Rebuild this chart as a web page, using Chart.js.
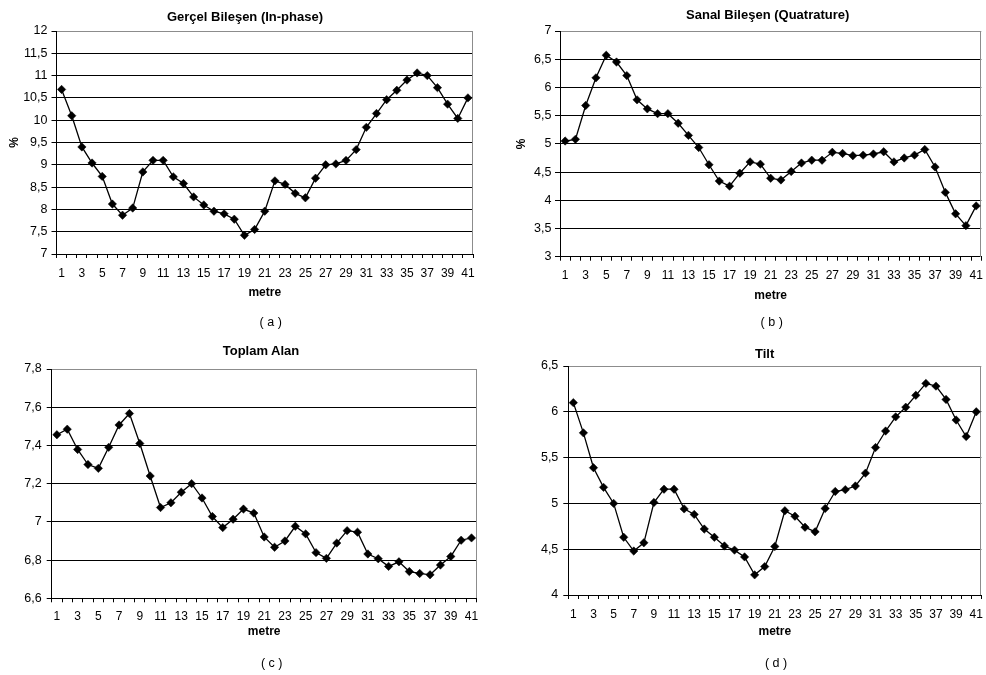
<!DOCTYPE html>
<html><head><meta charset="utf-8">
<script src="https://cdn.jsdelivr.net/npm/chart.js@4.4.1/dist/chart.umd.min.js"></script>
<style>
html,body{margin:0;padding:0;background:#fff;overflow:hidden;}
body{width:986px;height:675px;position:relative;font-family:"Liberation Sans",Arial,sans-serif;}
canvas{position:absolute;}
.t{position:absolute;transform:translate(-50%,-50%);white-space:nowrap;color:#000;line-height:1;}
.title{font-weight:bold;font-size:13px;}
.cap{font-size:12.5px;}
</style></head><body>
<canvas id="cA"></canvas>
<canvas id="cB"></canvas>
<canvas id="cC"></canvas>
<canvas id="cD"></canvas>
<div class="t title" style="left:245px;top:16px">Gerçel Bileşen (In-phase)</div>
<div class="t title" style="left:767.7px;top:13.5px">Sanal Bileşen (Quatrature)</div>
<div class="t title" style="left:261px;top:350px">Toplam Alan</div>
<div class="t title" style="left:764.7px;top:352.7px">Tilt</div>
<div class="t cap" style="left:270.7px;top:321.7px">( a )</div>
<div class="t cap" style="left:771.7px;top:321.7px">( b )</div>
<div class="t cap" style="left:271.7px;top:663.3px">( c )</div>
<div class="t cap" style="left:776px;top:663.3px">( d )</div>
<script>
// ---- data ----
const metre = ['1','2','3','4','5','6','7','8','9','10','11','12','13','14','15','16','17','18','19','20',
  '21','22','23','24','25','26','27','28','29','30','31','32','33','34','35','36','37','38','39','40','41'];

const inPhase = [10.69, 10.1, 9.4, 9.04, 8.74, 8.12, 7.87, 8.03, 8.84, 9.1,
  9.1, 8.73, 8.58, 8.28, 8.1, 7.96, 7.9, 7.78, 7.42, 7.55,
  7.96, 8.64, 8.56, 8.36, 8.26, 8.7, 9.0, 9.02, 9.1, 9.34,
  9.84, 10.15, 10.46, 10.67, 10.9, 11.06, 11.0, 10.73, 10.36, 10.04, 10.5];

const quadrature = [5.05, 5.08, 5.68, 6.17, 6.57, 6.45, 6.21, 5.78, 5.62, 5.535,
  5.535, 5.365, 5.15, 4.935, 4.63, 4.34, 4.25, 4.48, 4.68, 4.64,
  4.39, 4.36, 4.51, 4.66, 4.71, 4.71, 4.85, 4.83, 4.79, 4.8,
  4.82, 4.86, 4.68, 4.75, 4.8, 4.9, 4.59, 4.14, 3.76, 3.55, 3.9];

const totalArea = [7.456, 7.485, 7.379, 7.3, 7.28, 7.39, 7.507, 7.567, 7.41, 7.24,
  7.075, 7.1, 7.155, 7.2, 7.125, 7.028, 6.97, 7.014, 7.067, 7.046,
  6.921, 6.867, 6.9, 6.977, 6.937, 6.839, 6.809, 6.889, 6.954, 6.946,
  6.832, 6.807, 6.767, 6.791, 6.74, 6.73, 6.723, 6.774, 6.819, 6.904, 6.916];

const tilt = [6.1, 5.77, 5.39, 5.175, 5.0, 4.63, 4.48, 4.57, 5.01, 5.155,
  5.155, 4.94, 4.88, 4.72, 4.63, 4.535, 4.49, 4.416, 4.22, 4.31,
  4.53, 4.92, 4.86, 4.74, 4.69, 4.945, 5.13, 5.15, 5.19, 5.33,
  5.61, 5.79, 5.945, 6.05, 6.18, 6.31, 6.28, 6.135, 5.91, 5.73, 6.0];

// y tick ranges: [min, max, step]
const yTicksA = [7, 12, 0.5];
const yTicksB = [3, 7, 0.5];
const yTicksC = [6.6, 7.8, 0.2];
const yTicksD = [4, 6.5, 0.5];

// ---- layout ----
const FONT = '"Liberation Sans", Arial, sans-serif';
const geo = {
  A: {x:0,   y:0,   w:490, h:330, yw:56.5, pr:17,  pt:31, xh:76,   xp:8.7, mb:30.1, yt:'%', ytp:7.8,  yp:4},
  B: {x:490, y:0,   w:496, h:330, yw:70,   pr:3.3, pt:31, xh:73.3, xp:8.1, mb:27.1, yt:'%', ytp:24.8, yp:3.5},
  C: {x:0,   y:330, w:490, h:345, yw:51.7, pr:13.3,pt:39, xh:76.7, xp:7.2, mb:36.1, yt:'',  ytp:0,    yp:5},
  D: {x:490, y:330, w:496, h:345, yw:78.3, pr:4,   pt:36, xh:80,   xp:8.1, mb:36.1, yt:'',  ytp:0,    yp:5}
};

const plotFrame = {
  id: 'plotFrame',
  beforeDatasetsDraw(chart) {
    const {ctx, chartArea: a} = chart;
    ctx.save();
    ctx.strokeStyle = '#8c8c8c';
    ctx.lineWidth = 1;
    const x = Math.round(a.right) - 0.5;
    ctx.beginPath();
    ctx.moveTo(x, Math.round(a.top));
    ctx.lineTo(x, Math.round(a.bottom));
    ctx.stroke();
    ctx.restore();
  }
};

function fmt(v) {
  return (Math.round(v * 100) / 100).toString().replace('.', ',');
}

function build(id, g, values, yr) {
  const canvas = document.getElementById(id);
  canvas.width = g.w; canvas.height = g.h;
  canvas.style.left = g.x + 'px'; canvas.style.top = g.y + 'px';
  const [ymin, ymax, ystep] = yr;
  return new Chart(canvas, {
    type: 'line',
    data: {
      labels: metre,
      datasets: [{
        data: values,
        borderColor: '#000', borderWidth: 1.3, tension: 0, fill: false,
        pointStyle: 'rectRot', pointRadius: 4.2, pointHoverRadius: 4.2,
        pointBackgroundColor: '#000', pointBorderColor: '#000', pointBorderWidth: 0.5
      }]
    },
    options: {
      responsive: false, animation: false, devicePixelRatio: 1,
      layout: {padding: {left: 0, top: g.pt, right: g.pr, bottom: 0}},
      plugins: {legend: {display: false}, tooltip: {enabled: false}, title: {display: false}},
      scales: {
        x: {
          type: 'category', offset: true,
          grid: {offset: true, drawOnChartArea: false, drawTicks: true, tickLength: 4, color: '#000', lineWidth: 1},
          border: {color: '#000', width: 1},
          ticks: {
            autoSkip: false, maxRotation: 0, minRotation: 0, padding: g.xp, color: '#000',
            font: {family: FONT, size: 12},
            callback: (v, i) => (i % 2 === 0 ? metre[i] : '')
          },
          title: {display: true, text: 'metre', color: '#000',
            font: {family: FONT, size: 12, weight: 'bold'}, padding: {top: 0, bottom: g.mb}},
          afterFit(s) { s.height = g.xh; s.paddingLeft = 0; s.paddingRight = 0; }
        },
        y: {
          min: ymin, max: ymax,
          ticks: {stepSize: ystep, padding: g.yp, color: '#000', font: {family: FONT, size: 12.5}, callback: v => fmt(v)},
          grid: {
            color: c => (c.tick && Math.abs(c.tick.value - ymax) < 1e-9 ? '#8c8c8c' : '#000'),
            tickColor: '#000', tickLength: 5, lineWidth: 1
          },
          border: {color: '#000', width: 1},
          title: {display: !!g.yt, text: g.yt, color: '#000',
            font: {family: FONT, size: 12, weight: 'bold'}, padding: {top: g.ytp, bottom: 0}},
          afterFit(s) { s.width = g.yw; s.paddingTop = 0; s.paddingBottom = 0; }
        }
      }
    },
    plugins: [plotFrame]
  });
}

build('cA', geo.A, inPhase, yTicksA);
build('cB', geo.B, quadrature, yTicksB);
build('cC', geo.C, totalArea, yTicksC);
build('cD', geo.D, tilt, yTicksD);
</script>
</body></html>
